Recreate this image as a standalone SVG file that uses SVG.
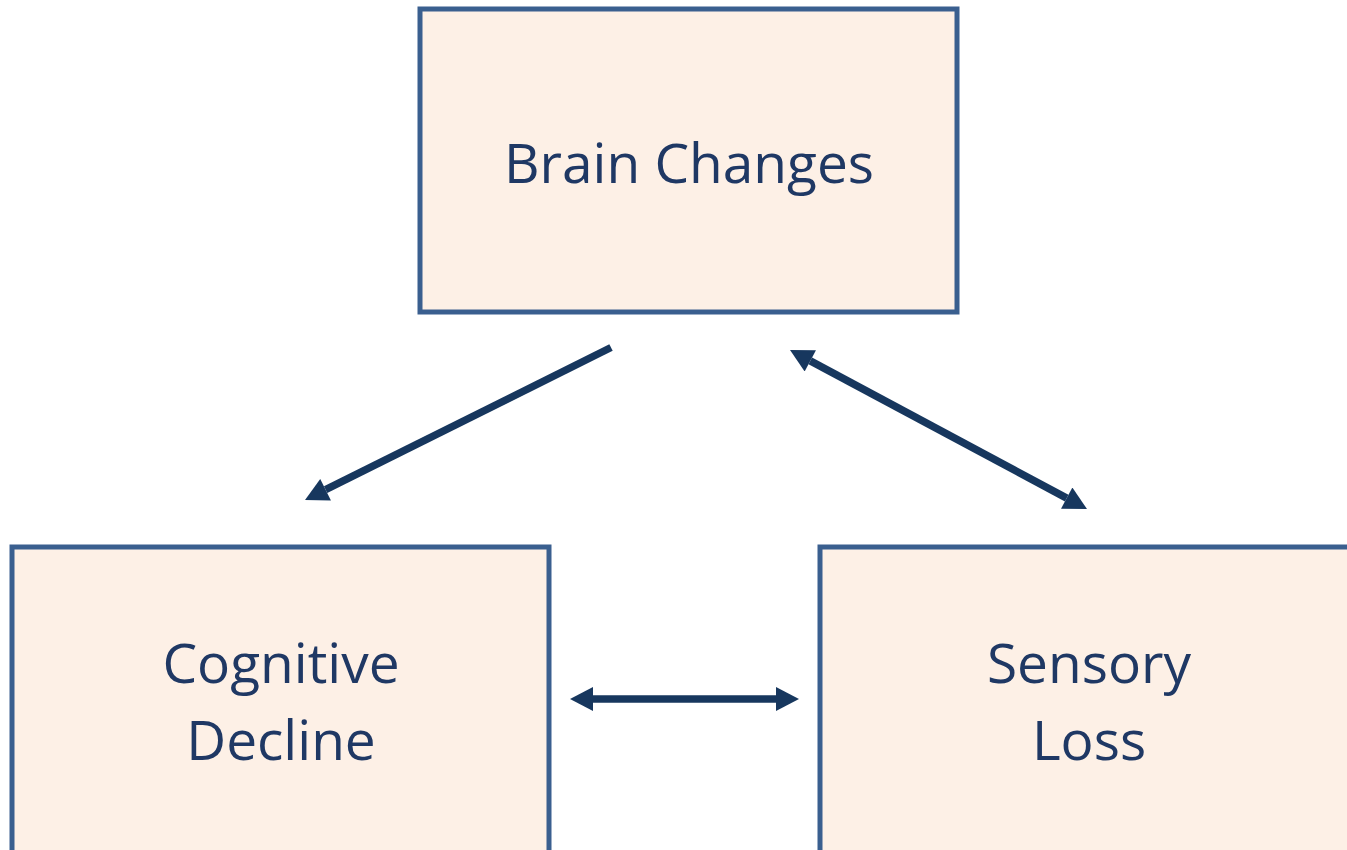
<svg xmlns="http://www.w3.org/2000/svg" width="1347" height="850" viewBox="0 0 1347 850">
<style>
.box{fill:#FDF0E6;stroke:#3A5F8F;stroke-width:5}
.lbl{font-family:"Open Sans","Noto Sans",sans-serif;font-size:55px;fill:#1F3864;text-anchor:middle}
.conn{stroke:#17375E;stroke-width:7.5;fill:none}
</style>
<defs>
<marker id="ah" markerUnits="userSpaceOnUse" markerWidth="24" markerHeight="24" refX="0" refY="12" orient="auto-start-reverse" viewBox="0 0 23 24">
<path d="M0,0 L23,12 L0,24 z" fill="#17375E"/>
</marker>
</defs>
<rect width="1347" height="850" fill="#FFFFFF"/>
<g id="brain">
<rect class="box" x="420" y="9" width="537" height="303"/>
<text class="lbl" x="689" y="183">Brain Changes</text>
</g>
<g id="cognitive">
<rect class="box" x="12" y="547" width="537" height="310"/>
<text class="lbl" x="281" y="683">Cognitive</text>
<text class="lbl" x="281" y="760">Decline</text>
</g>
<g id="sensory">
<rect class="box" x="820" y="547" width="540" height="310"/>
<text class="lbl" x="1089" y="683">Sensory</text>
<text class="lbl" x="1089" y="760">Loss</text>
</g>
<g id="connectors">
<line class="conn" x1="611" y1="347.5" x2="325.6" y2="489.7" marker-end="url(#ah)"/>
<line class="conn" x1="810.3" y1="360.9" x2="1066.7" y2="498.1" marker-start="url(#ah)" marker-end="url(#ah)"/>
<line class="conn" x1="593" y1="699" x2="776" y2="699" marker-start="url(#ah)" marker-end="url(#ah)"/>
</g>
</svg>
